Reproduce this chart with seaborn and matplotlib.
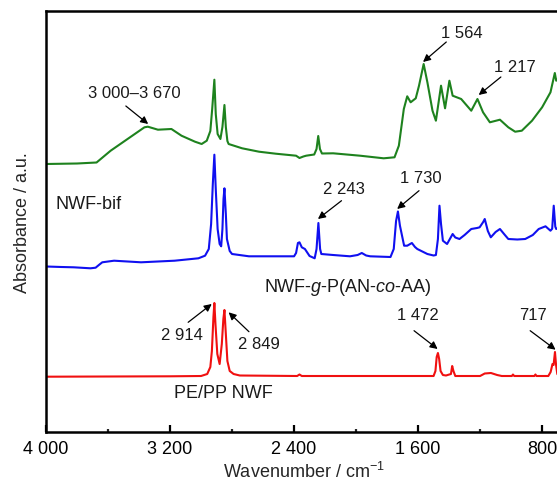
import numpy as np
import pandas as pd
import matplotlib
matplotlib.use("Agg")
import matplotlib.pyplot as plt
import seaborn as sns

# ---------------- data ----------------
red_wn = [4000, 3600, 3200, 3000, 2960, 2940, 2930, 2920, 2914, 2907, 2895, 2880, 2866, 2856,
          2849, 2840, 2830, 2815, 2790, 2750, 2380, 2365, 2350, 1800, 1500, 1488, 1480, 1472,
          1464, 1455, 1440, 1420, 1388, 1380, 1372, 1360, 1200, 1170, 1130, 1090, 1060, 995,
          988, 980, 850, 843, 836, 760, 745, 733, 726, 717, 710, 702, 690, 668]
red_abs = [0.55, 0.552, 0.554, 0.557, 0.577, 0.647, 0.807, 1.147, 1.287, 1.077, 0.777, 0.677,
           0.877, 1.127, 1.217, 0.977, 0.707, 0.607, 0.577, 0.562, 0.557, 0.572, 0.557, 0.557,
           0.557, 0.607, 0.747, 0.787, 0.727, 0.607, 0.567, 0.562, 0.577, 0.657, 0.607, 0.557,
           0.557, 0.582, 0.587, 0.567, 0.557, 0.557, 0.572, 0.557, 0.557, 0.572, 0.557, 0.557,
           0.597, 0.677, 0.667, 0.797, 0.667, 0.577, 0.557, 0.567]

blue_wn = [4000, 3900, 3822, 3713, 3680, 3659, 3637, 3561, 3387, 3170, 3017, 2974, 2950, 2935,
           2924, 2914, 2905, 2893, 2880, 2870, 2862, 2855, 2849, 2840, 2833, 2815, 2800, 2691,
           2518, 2400, 2387, 2375, 2365, 2350, 2330, 2300, 2267, 2255, 2243, 2232, 2224, 2148,
           2039, 1990, 1963, 1935, 1909, 1778, 1757, 1742, 1730, 1717, 1690, 1670, 1640, 1620,
           1605, 1540, 1500, 1485, 1472, 1462, 1452, 1440, 1413, 1377, 1360, 1333, 1300, 1257,
           1220, 1203, 1180, 1170, 1150, 1131, 1100, 1072, 1040, 1018, 960, 909, 860, 822, 778,
           746, 735, 725, 715, 709, 670]
blue_abs = [1.652, 1.647, 1.644, 1.634, 1.64, 1.667, 1.694, 1.71, 1.694, 1.71, 1.734, 1.76,
            1.827, 2.077, 2.477, 2.77, 2.427, 2.027, 1.877, 1.854, 2.027, 2.327, 2.434, 2.177,
            1.927, 1.807, 1.777, 1.754, 1.754, 1.754, 1.787, 1.887, 1.894, 1.844, 1.827, 1.757,
            1.734, 1.827, 2.087, 1.827, 1.777, 1.767, 1.754, 1.767, 1.787, 1.762, 1.754, 1.747,
            1.827, 2.107, 2.202, 2.06, 1.86, 1.86, 1.887, 1.847, 1.827, 1.777, 1.762, 1.767,
            1.927, 2.26, 2.077, 1.91, 1.877, 1.977, 1.942, 1.927, 1.967, 2.027, 2.037, 2.044,
            2.097, 2.127, 2.007, 1.944, 1.997, 2.027, 1.967, 1.927, 1.922, 1.927, 1.967, 2.027,
            2.054, 2.01, 2.03, 2.26, 2.05, 2.027, 2.06]

green_wn = [4000, 3800, 3674, 3583, 3474, 3365, 3343, 3278, 3191, 3126, 3039, 2996, 2963, 2940,
            2928, 2914, 2905, 2893, 2875, 2862, 2849, 2840, 2830, 2822, 2735, 2626, 2518, 2387,
            2365, 2340, 2322, 2270, 2255, 2244, 2233, 2220, 2148, 1974, 1822, 1752, 1724, 1692,
            1670, 1648, 1615, 1594, 1564, 1540, 1507, 1485, 1452, 1426, 1398, 1377, 1322, 1257,
            1217, 1181, 1137, 1072, 1018, 974, 931, 865, 800, 746, 718, 709, 670]
green_abs = [2.677, 2.682, 2.692, 2.81, 2.927, 3.044, 3.05, 3.02, 3.027, 2.96, 2.90, 2.877,
             2.91, 3.007, 3.227, 3.52, 3.177, 2.977, 2.927, 3.047, 3.267, 3.047, 2.907, 2.877,
             2.834, 2.80, 2.78, 2.76, 2.737, 2.752, 2.76, 2.772, 2.827, 2.957, 2.827, 2.782,
             2.784, 2.76, 2.734, 2.744, 2.86, 3.227, 3.354, 3.294, 3.334, 3.46, 3.677, 3.494,
             3.21, 3.11, 3.46, 3.234, 3.51, 3.36, 3.327, 3.21, 3.327, 3.194, 3.094, 3.12, 3.044,
             3.00, 3.01, 3.11, 3.244, 3.394, 3.587, 3.51, 3.577]

xtick_values = [4000, 3200, 2400, 1600, 800]
xtick_labels = ["4 000", "3 200", "2 400", "1 600", "800"]
xminor_values = [3600, 2800, 2000, 1200]

peak_labels = ["3 000\u20133 670", "1 564", "1 217", "2 243", "1 730", "2 914", "2 849", "1 472", "717"]
sample_labels = ["NWF-bif", "NWF-$\\it{g}$-P(AN-$\\it{co}$-AA)", "PE/PP NWF"]

# ---------------- style ----------------
sns.set_style("ticks")
plt.rcParams["font.family"] = ["Liberation Sans", "DejaVu Sans"]
plt.rcParams["mathtext.fontset"] = "custom"
plt.rcParams["mathtext.rm"] = "Liberation Sans"
plt.rcParams["mathtext.it"] = "Liberation Sans:italic"
plt.rcParams["mathtext.bf"] = "Liberation Sans:bold"

fig = plt.figure(figsize=(5.57, 4.81), dpi=100)
ax = fig.add_axes([46 / 557, 1 - 432.7 / 481, 1 - 46 / 557 + 0.01, (432.7 - 12) / 481])

frames = [
    pd.DataFrame({"wn": green_wn, "abs": green_abs, "s": "green"}),
    pd.DataFrame({"wn": blue_wn, "abs": blue_abs, "s": "blue"}),
    pd.DataFrame({"wn": red_wn, "abs": red_abs, "s": "red"}),
]
colors = {"green": "#1e821e", "blue": "#1010f0", "red": "#f01010"}
for df in frames:
    sns.lineplot(data=df, x="wn", y="abs", ax=ax, color=colors[df["s"].iloc[0]],
                 lw=1.5, estimator=None, sort=True, legend=False)

ax.set_xlim(4000, 668)
ax.set_ylim(0, 4.207)
ax.set_xticks(xtick_values)
ax.set_xticklabels(xtick_labels)
ax.set_xticks(xminor_values, minor=True)
ax.set_yticks([])
ax.tick_params(axis="x", which="major", direction="in", length=5, width=1.6,
               labelsize=13, pad=6, colors="black")
ax.tick_params(axis="x", which="minor", direction="in", length=2.5, width=1.6)
for side in ["top", "left", "bottom"]:
    ax.spines[side].set_linewidth(1.8)
    ax.spines[side].set_color("black")
ax.spines["right"].set_visible(False)

ax.set_xlabel("Wavenumber / cm$^{\u22121}$", fontsize=13, labelpad=3)
ax.set_ylabel("Absorbance / a.u.", fontsize=13, labelpad=11)

# ---------------- annotations ----------------
text_pos = [(3433, 3.397), (1320, 3.997), (974, 3.647), (2076, 2.427), (1581, 2.537),
            (3120, 0.967), (2624, 0.877), (1600, 1.167), (857, 1.167)]
tails = [(3485, 3.257), (1418, 3.897), (1066, 3.547), (2094, 2.31), (1594, 2.41),
         (3083, 1.094), (2691, 1.0), (1626, 1.01), (877, 1.01)]
heads = [(3341, 3.077), (1568, 3.697), (1209, 3.367), (2246, 2.127), (1735, 2.227),
         (2931, 1.277), (2822, 1.194), (1474, 0.827), (713, 0.82)]
for lab, tp, tl, hd in zip(peak_labels, text_pos, tails, heads):
    ax.text(tp[0], tp[1], lab, fontsize=12, ha="center", va="center", color="#1a1a1a")
    ax.annotate("", xy=hd, xytext=tl,
                arrowprops=dict(arrowstyle="-|>", color="black", lw=0.9,
                                mutation_scale=11, shrinkA=0, shrinkB=0))

ax.text(3941, 2.277, sample_labels[0], fontsize=13, ha="left", va="center", color="#1a1a1a")
ax.text(2050, 1.447, sample_labels[1], fontsize=13, ha="center", va="center", color="#1a1a1a")
ax.text(2859, 0.387, sample_labels[2], fontsize=13, ha="center", va="center", color="#1a1a1a")

fig.savefig("out.png", dpi=100)
